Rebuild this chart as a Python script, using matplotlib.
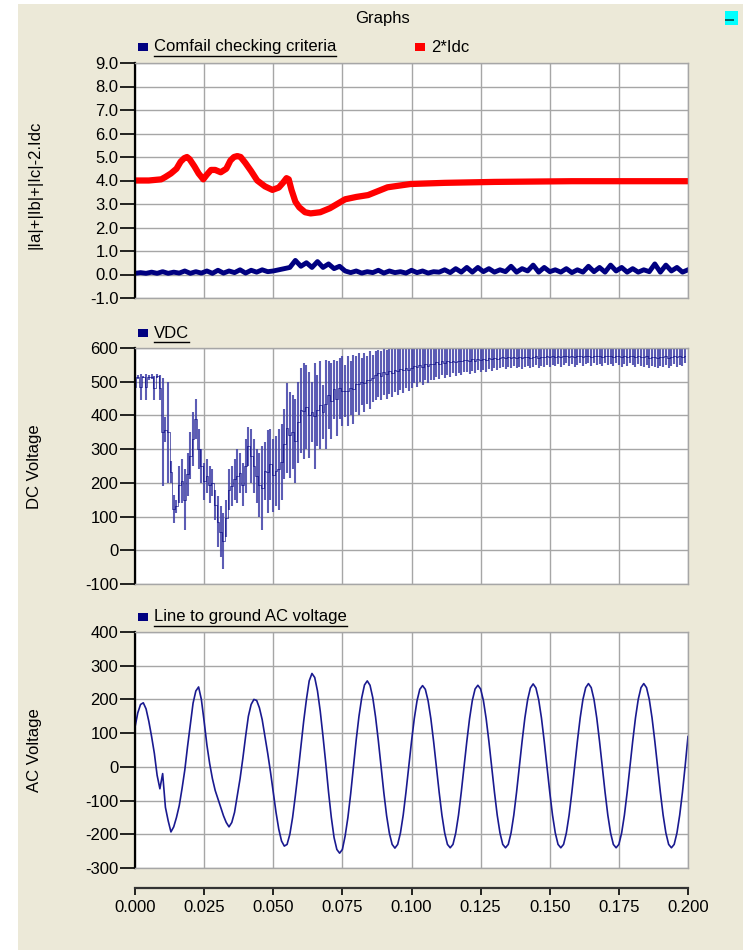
import numpy as np
import matplotlib
matplotlib.use("Agg")
import matplotlib.pyplot as plt
from matplotlib.patches import Rectangle
from matplotlib.lines import Line2D

plt.rcParams['font.family'] = ['Liberation Sans', 'DejaVu Sans']

# ---- data ----
# top panel: 2*Idc (irregular sample times)
red_t = [0, 0.005, 0.0095, 0.011, 0.013, 0.015, 0.0165, 0.0178, 0.0188, 0.0198,
         0.0215, 0.023, 0.0247, 0.026, 0.0275, 0.029, 0.031, 0.033, 0.0345, 0.0358,
         0.037, 0.0382, 0.0399, 0.042, 0.0442, 0.047, 0.0497, 0.052, 0.0535, 0.0548,
         0.0556, 0.0566, 0.058, 0.0594, 0.0615, 0.0635, 0.067, 0.0705, 0.076, 0.08,
         0.0843, 0.0913, 0.0996, 0.112, 0.13, 0.158, 0.2]
red_v = [4.0, 4.0, 4.05, 4.15, 4.3, 4.5, 4.8, 4.95, 5.0, 4.9,
         4.6, 4.3, 4.05, 4.25, 4.45, 4.45, 4.35, 4.5, 4.85, 5.0,
         5.04, 5.0, 4.75, 4.4, 4.0, 3.75, 3.6, 3.7, 3.9, 4.1,
         4.05, 3.6, 3.1, 2.86, 2.65, 2.6, 2.65, 2.82, 3.2, 3.3,
         3.38, 3.71, 3.85, 3.9, 3.94, 3.97, 3.97]

# top panel: comfail criteria, one value every 2 ms
comfail_dt = 0.002
comfail = [0.05, 0.08, 0.05, 0.1, 0.05, 0.12, 0.05, 0.1, 0.06, 0.15,
           0.05, 0.12, 0.06, 0.15, 0.05, 0.18, 0.06, 0.15, 0.08, 0.2,
           0.06, 0.18, 0.1, 0.2, 0.12,
           0.15, 0.2, 0.25,
           0.3, 0.6, 0.35, 0.5, 0.3, 0.55, 0.3, 0.45, 0.25, 0.35, 0.15,
           0.08, 0.15, 0.06, 0.12, 0.08, 0.18, 0.06, 0.15, 0.08, 0.12,
           0.06, 0.18, 0.08, 0.15, 0.06, 0.12, 0.1, 0.2, 0.08, 0.25,
           0.1, 0.3,
           0.1, 0.3, 0.12, 0.25, 0.1, 0.2, 0.12, 0.35, 0.1, 0.25,
           0.15, 0.4, 0.1, 0.3, 0.12, 0.2, 0.1, 0.25, 0.08, 0.2,
           0.1, 0.35, 0.12, 0.3, 0.1, 0.4, 0.15, 0.3, 0.1, 0.25,
           0.1, 0.2, 0.12, 0.45, 0.1, 0.4, 0.15, 0.3, 0.1, 0.2]

# middle panel: VDC ripple, top and bottom of each stroke, one stroke per ms
vdc_dt = 0.001
vdc_hi = [522, 520, 522, 518, 522, 520, 522, 518, 522, 520,
          510, 395, 500, 265, 165, 150, 250, 270, 240, 290,
          350, 410, 450, 360, 300, 260, 270, 250, 240, 180,
          160, 130, 110, 150, 240, 250, 270, 300, 290, 260,
          330, 366, 360, 330, 300, 290, 310, 320, 357, 360,
          330, 340, 360, 375, 420, 495, 470, 460, 450, 500,
          540, 555, 550, 530, 500, 555, 520, 560, 490, 565,
          560, 555, 565, 560, 570, 575, 550, 575, 560, 580,
          575, 585, 570, 585, 575, 590, 580, 592, 595, 590,
          598, 595, 600, 598, 615, 612, 618, 615, 620, 615,
          618, 615, 620, 615, 618, 615, 620, 615, 618, 615,
          620, 615, 618, 615, 620, 615, 618, 615, 620, 615,
          618, 615, 620, 615, 618, 615, 620, 615, 618, 615,
          620, 615, 618, 615, 620, 615, 618, 615, 620, 615,
          618, 615, 620, 615, 618, 615, 620, 615, 618, 615,
          620, 615, 618, 615, 620, 615, 618, 615, 620, 615,
          618, 615, 620, 615, 618, 615, 620, 615, 618, 615,
          620, 615, 618, 615, 620, 615, 618, 615, 620, 615,
          618, 615, 620, 615, 618, 615, 620, 615, 618, 615,
          620, 615, 618, 615, 620, 615, 618, 615, 620, 615]
vdc_lo = [445, 508, 445, 510, 445, 505, 508, 445, 510, 445,
          190, 320, 200, 200, 80, 110, 140, 140, 60, 160,
          210, 250, 330, 240, 200, 150, 170, 140, 160, 90,
          10, -20, -55, 40, 120, 130, 150, 140, 170, 130,
          170, 250, 200, 170, 140, 100, 60, 150, 110, 150,
          115, 130, 120, 150, 210, 230, 215, 240, 200, 260,
          290, 270, 300, 275, 320, 240, 310, 300, 330, 300,
          360, 330, 390, 340, 390, 370, 395, 370, 400, 375,
          410, 400, 430, 410, 435, 420, 440, 445, 455, 445,
          460, 450, 465, 455, 470, 462, 475, 468, 480, 472,
          480, 495, 485, 500, 490, 505, 495, 505, 505, 515,
          508, 520, 510, 520, 515, 525, 518, 525, 520, 528,
          530, 522, 532, 525, 535, 528, 535, 530, 538, 532,
          540, 535, 542, 545, 538, 545, 540, 548, 542, 545,
          538, 545, 548, 540, 545, 550, 542, 548, 545, 550,
          545, 550, 548, 552, 545, 550, 555, 548, 552, 545,
          550, 555, 548, 552, 555, 548, 555, 550, 552, 548,
          555, 550, 552, 548, 555, 550, 545, 552, 548, 555,
          550, 545, 552, 548, 545, 550, 542, 548, 545, 540,
          548, 545, 550, 542, 548, 552, 545, 550, 548, 555]

# bottom panel: line to ground AC voltage, one value per ms
ac_dt = 0.001
ac_v = [118, 160, 185, 190, 172, 135, 90, 40, -25, -65,
        -20, -120, -160, -193, -178, -150, -115, -65, -10, 60,
        125, 189, 225, 237, 200, 135, 65, 10, -35, -70,
        -95, -120, -145, -165, -178, -165, -135, -85, -35, 25,
        90, 150, 185, 200, 197, 175, 140, 90, 40, -15,
        -75, -135, -185, -220, -235, -230, -200, -150, -85, -15,
        60, 135, 200, 255, 277, 265, 225, 165, 90, 10,
        -75, -150, -210, -245, -256, -245, -205, -150, -80, 0,
        80, 150, 205, 243, 255, 242, 205, 148, 78, 0,
        -77, -145, -197, -230, -241, -230, -196, -143, -75, 0,
        75, 143, 196, 230, 241, 230, 196, 143, 75, 0,
        -75, -143, -196, -230, -240, -230, -196, -143, -75, 0,
        75, 143, 197, 231, 242, 231, 197, 143, 75, 0,
        -75, -143, -196, -230, -240, -230, -196, -143, -75, 0,
        76, 145, 199, 234, 246, 234, 199, 145, 76, 0,
        -75, -143, -196, -230, -240, -230, -196, -143, -75, 0,
        76, 145, 200, 235, 247, 235, 200, 145, 76, 0,
        -75, -143, -196, -230, -240, -230, -196, -143, -75, 0,
        76, 145, 200, 235, 247, 235, 200, 145, 76, 0,
        -75, -143, -196, -230, -240, -230, -196, -143, -75, 5,
        90]

x_ticks = [0, 0.025, 0.05, 0.075, 0.1, 0.125, 0.15, 0.175, 0.2]

# ---- figure ----
W, H = 743, 950
fig = plt.figure(figsize=(W / 100, H / 100), dpi=100)
fig.patch.set_facecolor('white')
fig.add_artist(Rectangle((18 / W, 0), 1, 1 - 4 / H, transform=fig.transFigure,
                         facecolor='#ECE9D8', edgecolor='none', zorder=-10))

navy = '#000080'
grid_c = '#A6A6A6'


def px_axes(top, bottom):
    return fig.add_axes([135 / W, 1 - bottom / H, (688 - 135) / W, (bottom - top) / H])


def style(ax, ylo, yhi, step, fmt):
    ax.set_xlim(0, 0.2)
    ax.set_ylim(ylo, yhi)
    ax.set_xticks(x_ticks)
    ax.set_yticks(np.arange(ylo, yhi + step / 2, step))
    ax.yaxis.set_major_formatter(plt.FormatStrFormatter(fmt))
    ax.tick_params(axis='x', length=0, labelbottom=False)
    ax.tick_params(axis='y', length=11, width=1.2, pad=1, labelsize=12, direction='out')
    ax.grid(True, color=grid_c, linewidth=1.0)
    ax.set_axisbelow(True)
    for s in ['top', 'right', 'bottom']:
        ax.spines[s].set_color(grid_c)
        ax.spines[s].set_linewidth(1.0)
    ax.spines['left'].set_color('black')
    ax.spines['left'].set_linewidth(1.6)


# top
ax1 = px_axes(63, 298)
t_c = np.arange(len(comfail)) * comfail_dt
ax1.plot(t_c, comfail, color=navy, linewidth=3.5)
ax1.plot(red_t, red_v, color='#FF0000', linewidth=4.5)
style(ax1, -1, 9, 1, '%.1f')

# middle
ax2 = px_axes(348, 584)
t_v = np.arange(len(vdc_hi)) * vdc_dt
ax2.vlines(t_v, vdc_lo, vdc_hi, color='#4040A8', linewidth=1.5, alpha=0.85)
mid = (np.array(vdc_hi).clip(max=600) + np.array(vdc_lo)) / 2
ax2.plot(t_v, mid, color=navy, linewidth=0.6, alpha=0.7, drawstyle='steps-mid')
style(ax2, -100, 600, 100, '%d')

# bottom
ax3 = px_axes(632, 868)
t_a = np.arange(len(ac_v)) * ac_dt
ax3.plot(t_a, ac_v, color='#1A1A90', linewidth=1.2)
style(ax3, -300, 400, 100, '%d')

# shared x axis strip
axx = fig.add_axes([135 / W, 1 - 888 / H, (688 - 135) / W, 0.0001])
axx.set_xlim(0, 0.2)
axx.set_xticks(x_ticks)
axx.xaxis.set_major_formatter(plt.FormatStrFormatter('%.3f'))
axx.set_yticks([])
axx.patch.set_visible(False)
for s in ['top', 'right', 'left']:
    axx.spines[s].set_visible(False)
axx.spines['bottom'].set_color('#333333')
axx.spines['bottom'].set_linewidth(1.6)
axx.tick_params(axis='x', length=5, width=1.2, pad=4, labelsize=12, direction='out')

# y labels
fig.text(35 / W, 1 - 185 / H, '|Ia|+|Ib|+|Ic|-2.Idc', rotation=90, ha='center', va='center', fontsize=12)
fig.text(35 / W, 1 - 467 / H, 'DC Voltage', rotation=90, ha='center', va='center', fontsize=12)
fig.text(35 / W, 1 - 750 / H, 'AC Voltage', rotation=90, ha='center', va='center', fontsize=12)

# title
fig.text(383 / W, 1 - 19 / H, 'Graphs', ha='center', va='center', fontsize=12)

# top-right icon
fig.add_artist(Rectangle((725 / W, 1 - 25 / H), 13 / W, 14 / H, transform=fig.transFigure,
                         facecolor='#00FFFF', edgecolor='none'))
fig.add_artist(Rectangle((725 / W, 1 - 21 / H), 9 / W, 2 / H, transform=fig.transFigure,
                         facecolor='#006666', edgecolor='none'))

# legends
legend_items = [
    (138, 47, navy, 'Comfail checking criteria', True),
    (415, 47, '#FF0000', '2*Idc', False),
    (138, 333, navy, 'VDC', True),
    (138, 617, navy, 'Line to ground AC voltage', True),
]
texts = []
for x, y, c, label, underline in legend_items:
    fig.add_artist(Rectangle((x / W, 1 - (y + 4) / H), 10 / W, 8 / H, transform=fig.transFigure,
                             facecolor=c, edgecolor='none'))
    t = fig.text((x + 16) / W, 1 - y / H, label, ha='left', va='center', fontsize=12)
    texts.append((t, underline))

fig.canvas.draw()
r = fig.canvas.get_renderer()
for t, underline in texts:
    if not underline:
        continue
    bb = t.get_window_extent(renderer=r)
    yy = (bb.y0 - 1) / H
    fig.add_artist(Line2D([bb.x0 / W, bb.x1 / W], [yy, yy], transform=fig.transFigure,
                          color='black', linewidth=1.0))

fig.savefig('out.png', dpi=100)
